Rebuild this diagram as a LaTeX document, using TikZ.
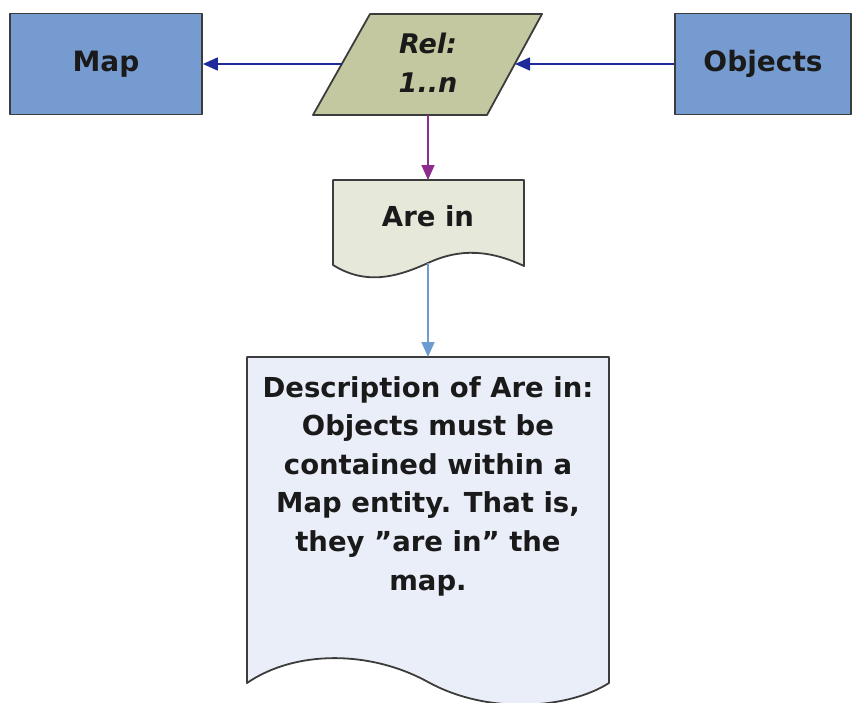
\documentclass[tikz,border=0pt]{standalone}
\usepackage{fontspec}
\setmainfont{DejaVu Sans}
\usetikzlibrary{arrows.meta}

\definecolor{entityfill}{HTML}{769BD0}
\definecolor{relfill}{HTML}{C4C8A0}
\definecolor{docfill}{HTML}{E6E8DA}
\definecolor{descfill}{HTML}{E9EEF8}
\definecolor{edgegray}{HTML}{3C3C3C}
\definecolor{navyline}{HTML}{1E2A9A}
\definecolor{purpleline}{HTML}{8E2C8E}
\definecolor{blueline}{HTML}{6C9BCF}
\definecolor{inktext}{HTML}{1A1A1A}

\tikzset{
  outline/.style={draw=edgegray, line width=1.8pt, line join=round},
  entity/.style={outline, fill=entityfill, minimum width=192pt, minimum height=101pt,
    inner sep=0pt, font=\fontsize{28}{34}\selectfont\bfseries, text=inktext},
  label/.style={inner sep=0pt, text=inktext, font=\fontsize{27.5}{38.6}\selectfont\bfseries, align=center},
  conn/.style={line width=1.7pt, -{Triangle[length=15pt,width=13pt]}},
}

\begin{document}
\begin{tikzpicture}[x=1pt,y=-1pt]
\useasboundingbox (0,0) rectangle (852,702);

% entities
\node[entity] (map) at (106,64) {Map};
\node[entity, minimum width=176pt] (objects) at (763,64) {Objects};

% relationship parallelogram
\draw[outline, fill=relfill] (370,14) -- (542,14) -- (487,115) -- (313,115) -- cycle;
\node[label, font=\fontsize{27}{39}\selectfont\bfseries\itshape] (rel) at (428,63) {Rel:\\1..n};
\coordinate (relL) at (342,64);
\coordinate (relR) at (515,64);
\coordinate (relB) at (428,115);

% "Are in" document
\draw[outline, fill=docfill] (333,265) -- (333,180) -- (524,180) -- (524,266)
  .. controls (490,250) and (460,248) .. (428,263)
  .. controls (395,278) and (365,285) .. (333,265) -- cycle;
\node[label] (arein) at (428,216) {Are in};
\coordinate (areinT) at (428,180);
\coordinate (areinB) at (428,263);

% description document
\draw[outline, fill=descfill] (247,683) -- (247,357) -- (609,357) -- (609,683)
  .. controls (570,708) and (490,716) .. (428,682)
  .. controls (370,650) and (295,650) .. (247,683) -- cycle;
\node[label] (desc) at (428,486) {Description of Are in:\\Objects must be\\contained within a\\Map entity. That is,\\they ”are in” the\\map.};
\coordinate (descT) at (428,357);

% connectors
\draw[conn, navyline] (relL) -- (map.east);
\draw[conn, navyline] (objects.west) -- (relR);
\draw[conn, purpleline] (relB) -- (areinT);
\draw[conn, blueline] (areinB) -- (descT);
\end{tikzpicture}
\end{document}
